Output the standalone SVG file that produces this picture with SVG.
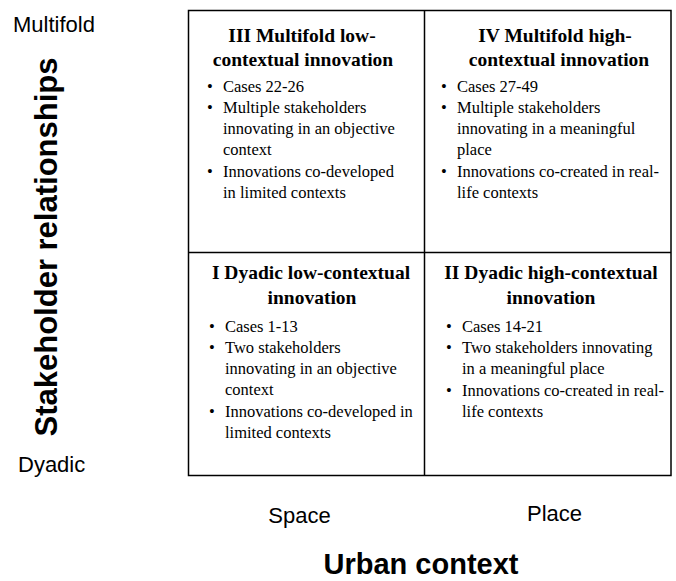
<svg xmlns="http://www.w3.org/2000/svg" width="676" height="581" viewBox="0 0 676 581">
<style>
.t{font-family:"Liberation Serif","Times New Roman",serif;font-weight:bold;font-size:19.5px;fill:#000;text-anchor:middle}
.b{font-family:"Liberation Serif","Times New Roman",serif;font-size:16.5px;fill:#000}
.s{font-family:"Liberation Sans",Arial,sans-serif;font-size:22px;fill:#000}
.h{font-family:"Liberation Sans",Arial,sans-serif;font-weight:bold;fill:#000}
.ln{stroke:#000;stroke-width:1.5;fill:none}
</style>
<rect width="676" height="581" fill="#fff"/>
<g id="grid">
<rect class="ln" x="188.5" y="10.5" width="482.5" height="465"/>
<line class="ln" x1="424.5" y1="10.5" x2="424.5" y2="475.5"/>
<line class="ln" x1="188.5" y1="252.5" x2="671" y2="252.5"/>
</g>
<g id="q3">
<text class="t" x="302" y="42">III Multifold low-</text>
<text class="t" x="303" y="66">contextual innovation</text>
<text class="b" x="207" y="92">•</text><text class="b" x="223" y="92">Cases 22-26</text>
<text class="b" x="207" y="113">•</text><text class="b" x="223" y="113">Multiple stakeholders</text>
<text class="b" x="223" y="134">innovating in an objective</text>
<text class="b" x="223" y="155">context</text>
<text class="b" x="207" y="177">•</text><text class="b" x="223" y="177">Innovations co-developed</text>
<text class="b" x="223" y="198">in limited contexts</text>
</g>
<g id="q4">
<text class="t" x="555" y="42">IV Multifold high-</text>
<text class="t" x="559" y="66">contextual innovation</text>
<text class="b" x="441" y="92">•</text><text class="b" x="457" y="92">Cases 27-49</text>
<text class="b" x="441" y="113">•</text><text class="b" x="457" y="113">Multiple stakeholders</text>
<text class="b" x="457" y="134">innovating in a meaningful</text>
<text class="b" x="457" y="155">place</text>
<text class="b" x="441" y="177">•</text><text class="b" x="457" y="177">Innovations co-created in real-</text>
<text class="b" x="457" y="198">life contexts</text>
</g>
<g id="q1">
<text class="t" x="311" y="279">I Dyadic low-contextual</text>
<text class="t" x="312" y="304">innovation</text>
<text class="b" x="209" y="332">•</text><text class="b" x="225" y="332">Cases 1-13</text>
<text class="b" x="209" y="353">•</text><text class="b" x="225" y="353">Two stakeholders</text>
<text class="b" x="225" y="374">innovating in an objective</text>
<text class="b" x="225" y="395">context</text>
<text class="b" x="209" y="417">•</text><text class="b" x="225" y="417">Innovations co-developed in</text>
<text class="b" x="225" y="438">limited contexts</text>
</g>
<g id="q2">
<text class="t" x="551" y="279">II Dyadic high-contextual</text>
<text class="t" x="551" y="304">innovation</text>
<text class="b" x="446" y="332">•</text><text class="b" x="462" y="332">Cases 14-21</text>
<text class="b" x="446" y="353">•</text><text class="b" x="462" y="353">Two stakeholders innovating</text>
<text class="b" x="462" y="374">in a meaningful place</text>
<text class="b" x="446" y="396">•</text><text class="b" x="462" y="396">Innovations co-created in real-</text>
<text class="b" x="462" y="417">life contexts</text>
</g>
<g id="axis-y">
<text class="s" x="13" y="32">Multifold</text>
<text class="s" x="18" y="472">Dyadic</text>
<text class="h" font-size="31" text-anchor="middle" transform="translate(57,247) rotate(-90)">Stakeholder relationships</text>
</g>
<g id="axis-x">
<text class="s" x="299.5" y="523" text-anchor="middle">Space</text>
<text class="s" x="554.5" y="521" text-anchor="middle">Place</text>
<text class="h" font-size="29" x="421" y="574" text-anchor="middle">Urban context</text>
</g>
</svg>
